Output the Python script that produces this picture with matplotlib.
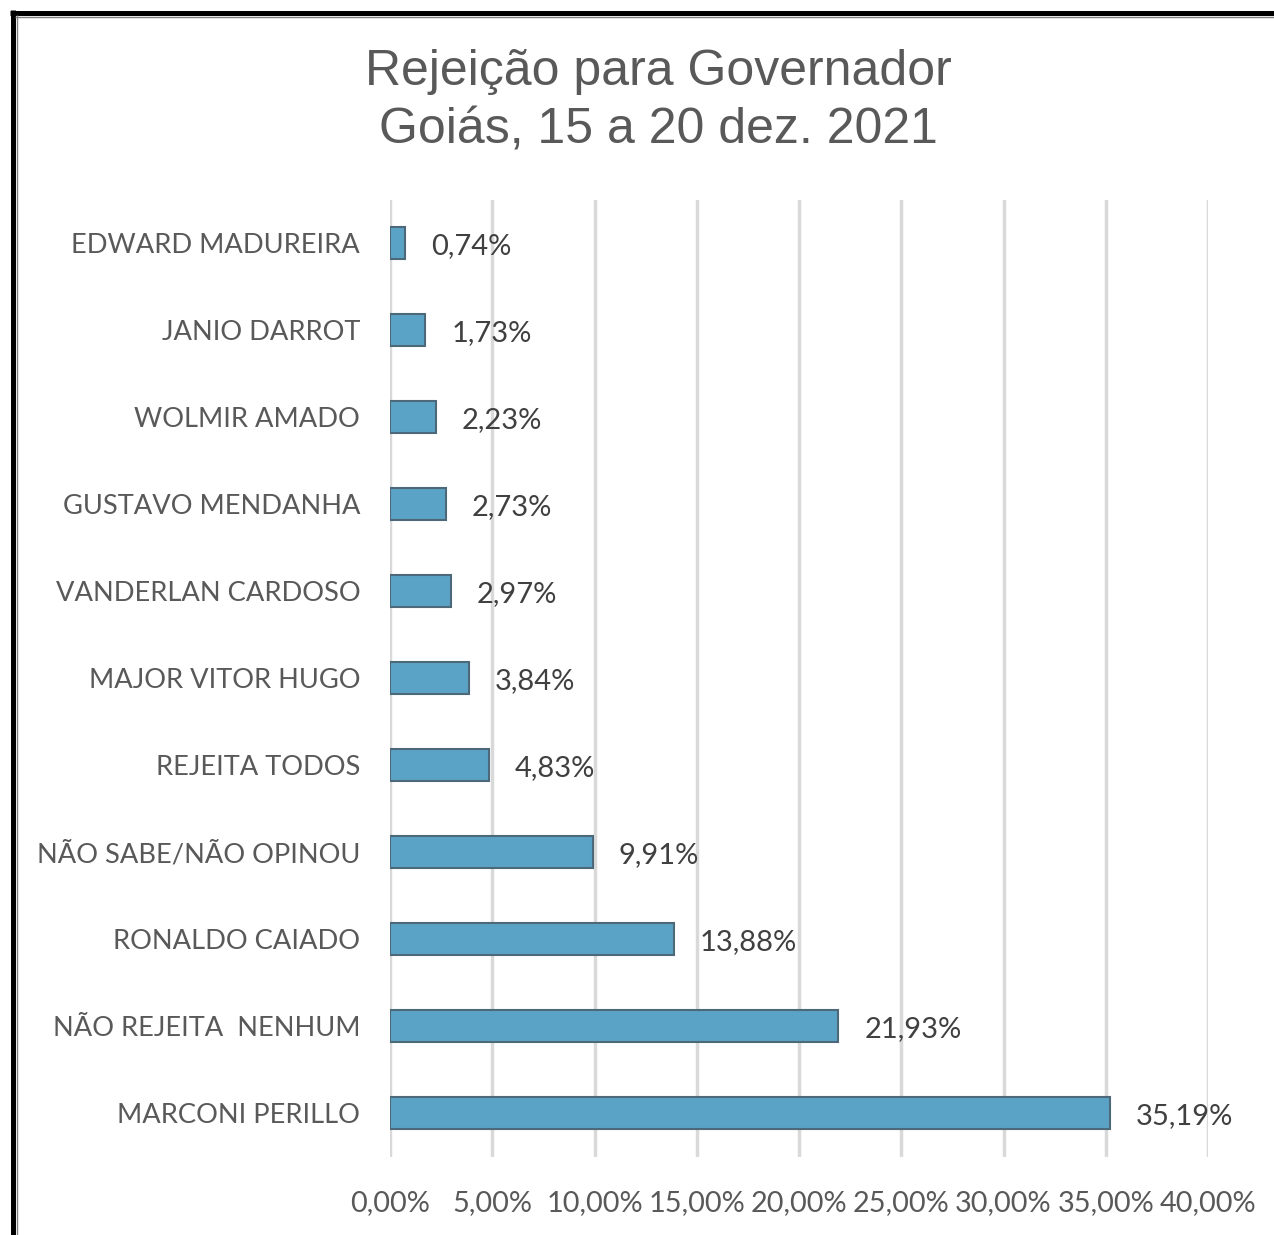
import matplotlib
matplotlib.use("Agg")
import matplotlib.pyplot as plt
from matplotlib.lines import Line2D

categories = ["EDWARD MADUREIRA", "JANIO DARROT", "WOLMIR AMADO", "GUSTAVO MENDANHA",
              "VANDERLAN CARDOSO", "MAJOR VITOR HUGO", "REJEITA TODOS",
              "NÃO SABE/NÃO OPINOU", "RONALDO CAIADO", "NÃO REJEITA  NENHUM",
              "MARCONI PERILLO"]
values = [0.74, 1.73, 2.23, 2.73, 2.97, 3.84, 4.83, 9.91, 13.88, 21.93, 35.19]
ticks = [0, 5, 10, 15, 20, 25, 30, 35, 40]
title_lines = ["Rejeição para Governador", "Goiás, 15 a 20 dez. 2021"]

W, H = 1274, 1235
fig = plt.figure(figsize=(W / 100, H / 100), dpi=100)
fig.patch.set_facecolor("white")

left, right = 390 / W, 1208 / W
top, bottom = 1 - 199.5 / H, 1 - 1156.5 / H
ax = fig.add_axes([left, bottom, right - left, top - bottom])

ypos = list(range(len(categories)))
ax.barh(ypos, values, height=0.37, color="#5BA3C6", edgecolor="#4D6878", linewidth=1.5, zorder=3)
ax.set_ylim(len(categories) - 0.5, -0.5)
ax.set_xlim(0, 40)
ax.set_xticks(ticks)
ax.set_xticklabels([f"{t:.2f}%".replace(".", ",") for t in ticks])
ax.set_yticks(ypos)
ax.set_yticklabels(categories)

font = "Lato"
for lab in ax.get_yticklabels():
    lab.set_fontfamily(font)
    lab.set_fontsize(19.6)
    lab.set_color("#595959")
for lab in ax.get_xticklabels():
    lab.set_fontfamily(font)
    lab.set_fontsize(20.8)
    lab.set_color("#595959")
ax.tick_params(axis="y", length=0, pad=21.5)
ax.tick_params(axis="x", length=0, pad=24)
ax.grid(axis="x", color="#D9D9D9", linewidth=2.5, zorder=0)
for s in ax.spines.values():
    s.set_visible(False)

for y, v in zip(ypos, values):
    ax.annotate(f"{v:.2f}%".replace(".", ","), xy=(v, y), xytext=(26, -3),
                textcoords="offset pixels", ha="left", va="center",
                fontsize=21, family=font, color="#404040", zorder=4)

for i, line in enumerate(title_lines):
    fig.text(658 / W, 1 - (85 + 58 * i) / H, line, ha="center", va="baseline",
             fontsize=36, family="Liberation Sans", color="#595959")

# border (left and top)
fig.add_artist(Line2D([12.5 / W, 12.5 / W], [0, 1 - 10 / H], color="black", linewidth=3.6,
                      transform=fig.transFigure, solid_capstyle="butt"))
fig.add_artist(Line2D([10 / W, 1], [1 - 12.5 / H, 1 - 12.5 / H], color="black", linewidth=3.6,
                      transform=fig.transFigure, solid_capstyle="butt"))
fig.add_artist(Line2D([16.5 / W, 16.5 / W], [0, 1 - 15 / H], color="#808080", linewidth=1.0,
                      transform=fig.transFigure, solid_capstyle="butt"))
fig.add_artist(Line2D([15 / W, 1], [1 - 16.5 / H, 1 - 16.5 / H], color="#808080", linewidth=1.0,
                      transform=fig.transFigure, solid_capstyle="butt"))

fig.savefig("out.png", dpi=100)
